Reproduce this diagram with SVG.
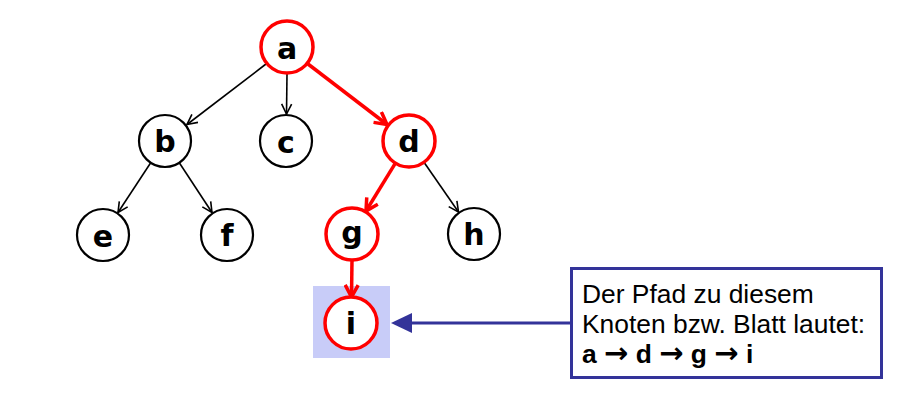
<svg xmlns="http://www.w3.org/2000/svg" width="908" height="413" viewBox="0 0 908 413">
<style>
.n circle{fill:#fff;stroke:#000;stroke-width:2.2}
.r circle{stroke:#ff0000;stroke-width:3.5}
.n text{font-family:"DejaVu Sans",sans-serif;font-weight:bold;font-size:30px;text-anchor:middle;fill:#000}
.e{stroke:#000;stroke-width:1.6;fill:none;marker-end:url(#ab)}
.er{stroke:#ff0000;stroke-width:3.5;fill:none;marker-end:url(#ar)}
.t{font-family:"Liberation Sans",Arial,sans-serif;font-size:26.4px;fill:#000}
.arw{font-family:"DejaVu Sans",sans-serif;font-weight:bold;font-size:29px}
</style>
<defs>
<marker id="ab" markerUnits="userSpaceOnUse" viewBox="0 0 12 12" refX="11" refY="6" markerWidth="12" markerHeight="12" orient="auto">
<path d="M1,1 L11,6 L1,11" fill="none" stroke="#000" stroke-width="1.6"/>
</marker>
<marker id="ar" markerUnits="userSpaceOnUse" viewBox="0 0 16 16" refX="14" refY="8" markerWidth="16" markerHeight="16" orient="auto">
<path d="M2,1.5 L14,8 L2,14.5" fill="none" stroke="#ff0000" stroke-width="3.5"/>
</marker>
</defs>
<rect id="highlight" x="313" y="286" width="77" height="72" fill="#c8ccf8"/>
<g id="connectors">
<line class="e" x1="266" y1="64" x2="187" y2="124.5"/>
<line class="e" x1="287" y1="74" x2="286.5" y2="114"/>
<line class="er" x1="308" y1="64" x2="387" y2="124.5"/>
<line class="e" x1="150.7" y1="162.7" x2="118" y2="212.5"/>
<line class="e" x1="179.3" y1="162.7" x2="212" y2="212.5"/>
<line class="er" x1="395.4" y1="163.2" x2="366" y2="211"/>
<line class="e" x1="424" y1="162.3" x2="458.5" y2="212"/>
<line class="er" x1="352" y1="260" x2="351.5" y2="297"/>
<line x1="570" y1="323" x2="408" y2="323" stroke="#333399" stroke-width="3"/>
<polygon points="391,323 412,313 412,333" fill="#333399"/>
</g>
<g id="a" class="n r"><circle cx="287" cy="47" r="26"/><text x="287" y="59">a</text></g>
<g id="b" class="n"><circle cx="165" cy="141" r="26"/><text x="165" y="152">b</text></g>
<g id="c" class="n"><circle cx="286" cy="141" r="26"/><text x="286" y="153">c</text></g>
<g id="d" class="n r"><circle cx="409" cy="141" r="26"/><text x="409" y="152">d</text></g>
<g id="e" class="n"><circle cx="103" cy="235" r="26"/><text x="103" y="247">e</text></g>
<g id="f" class="n"><circle cx="227" cy="235" r="26"/><text x="227" y="246">f</text></g>
<g id="g" class="n r"><circle cx="352" cy="234" r="26"/><text x="352" y="243">g</text></g>
<g id="h" class="n"><circle cx="474" cy="234" r="26"/><text x="474" y="245">h</text></g>
<g id="i" class="n r"><circle cx="351" cy="323" r="26"/><text x="351" y="334">i</text></g>
<g id="note">
<rect x="571.5" y="268.5" width="310" height="109" fill="#fff" stroke="#333399" stroke-width="3"/>
<text class="t" x="582" y="303">Der Pfad zu diesem</text>
<text class="t" x="582" y="333">Knoten bzw. Blatt lautet:</text>
<text class="t" x="582" y="363" font-weight="bold">a <tspan class="arw">→</tspan> d <tspan class="arw">→</tspan> g <tspan class="arw">→</tspan> i</text>
</g>
</svg>
